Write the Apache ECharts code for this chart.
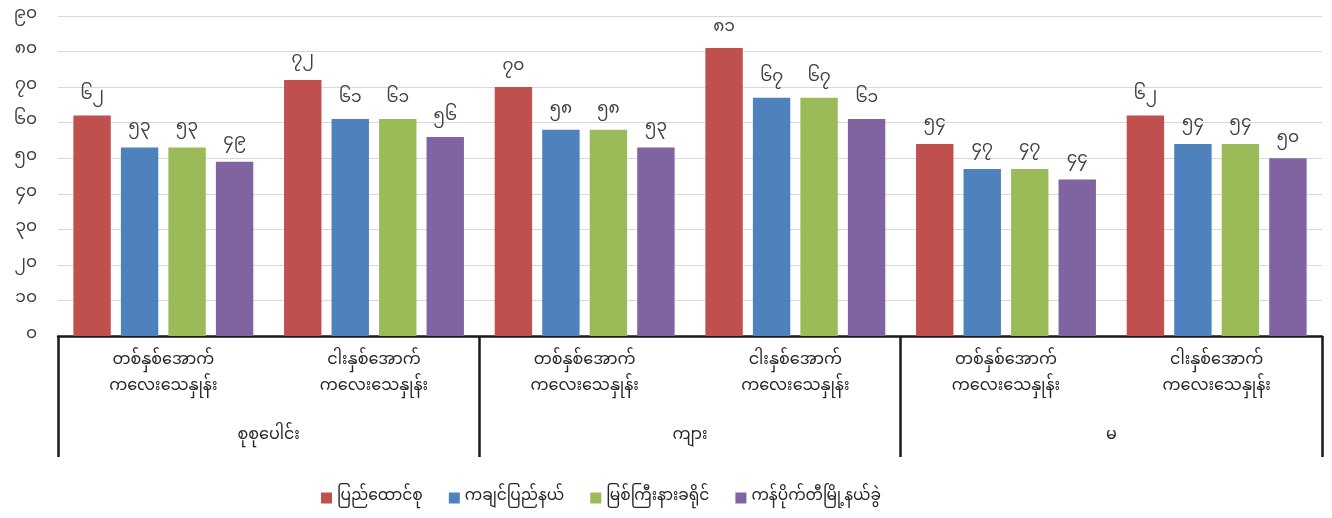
<!DOCTYPE html>
<html>
<head>
<meta charset="utf-8">
<script src="https://cdn.jsdelivr.net/npm/echarts@6/dist/echarts.min.js"></script>
<style>
html,body{margin:0;padding:0;background:#fff;}
#chart{width:1332px;height:518px;}
</style>
</head>
<body>
<div id="chart"></div>
<script>
const subCategories = [
  'တစ်နှစ်အောက်\nကလေးသေနှုန်း', 'ငါးနှစ်အောက်\nကလေးသေနှုန်း',
  'တစ်နှစ်အောက်\nကလေးသေနှုန်း', 'ငါးနှစ်အောက်\nကလေးသေနှုန်း',
  'တစ်နှစ်အောက်\nကလေးသေနှုန်း', 'ငါးနှစ်အောက်\nကလေးသေနှုန်း'
];
const groups = ['စုစုပေါင်း', 'ကျား', 'မ'];
const seriesNames = ['ပြည်ထောင်စု', 'ကချင်ပြည်နယ်', 'မြစ်ကြီးနားခရိုင်', 'ကန်ပိုက်တီမြို့နယ်ခွဲ'];
const unionValues    = [62, 72, 70, 81, 54, 62];
const kachinValues   = [53, 61, 58, 67, 47, 54];
const myitkyinaValues= [53, 61, 58, 67, 47, 54];
const kanpaikitiValues=[49, 56, 53, 61, 44, 50];
const yTicks = [0, 10, 20, 30, 40, 50, 60, 70, 80, 90];

const colors = ['#C0504D', '#4F81BD', '#9BBB59', '#8064A2'];
const MY_DIGITS = '၀၁၂၃၄၅၆၇၈၉';
function toMyanmar(n) {
  return String(n).replace(/[0-9]/g, d => MY_DIGITS[+d]);
}
const FONT = '"Noto Sans Myanmar", "Myanmar Text", Padauk, "Noto Sans", sans-serif';

const allValues = [unionValues, kachinValues, myitkyinaValues, kanpaikitiValues];

const chart = echarts.init(document.getElementById('chart'));
chart.setOption({
  animation: false,
  color: colors,
  textStyle: { fontFamily: FONT },
  grid: { left: 58, right: 10, top: 16, bottom: 182, containLabel: false },
  legend: {
    data: seriesNames,
    left: 316,
    top: 485,
    itemWidth: 11,
    itemHeight: 11,
    itemGap: 26,
    icon: 'rect',
    textStyle: { fontSize: 15.5, color: '#262626', fontFamily: FONT }
  },
  xAxis: [
    {
      type: 'category',
      data: subCategories,
      position: 'bottom',
      axisLine: { show: true, lineStyle: { color: '#1a1a1a', width: 2.5 } },
      axisTick: { show: false },
      axisLabel: { color: '#262626', fontSize: 16, lineHeight: 26, margin: 13, interval: 0, fontFamily: FONT }
    },
    {
      type: 'category',
      data: groups,
      position: 'bottom',
      axisLine: { show: false },
      axisTick: { show: true, length: 121, alignWithLabel: false, lineStyle: { color: '#1a1a1a', width: 2.5 } },
      axisLabel: { color: '#262626', fontSize: 16, margin: 93, interval: 0, fontFamily: FONT },
      splitLine: { show: false }
    }
  ],
  yAxis: {
    type: 'value',
    min: yTicks[0],
    max: yTicks[yTicks.length - 1],
    interval: 10,
    axisLine: { show: false },
    axisTick: { show: false },
    splitLine: { lineStyle: { color: '#d9d9d9', width: 1 } },
    axisLabel: {
      color: '#404040', fontSize: 17, margin: 21, fontFamily: FONT,
      formatter: v => toMyanmar(v)
    }
  },
  series: seriesNames.map((name, i) => ({
    name: name,
    type: 'bar',
    xAxisIndex: 0,
    data: allValues[i],
    barGap: '27%',
    barCategoryGap: '14.6%',
    itemStyle: { color: colors[i] },
    label: {
      show: true,
      position: 'top',
      distance: 10,
      color: '#404040',
      fontSize: 17,
      fontFamily: FONT,
      formatter: p => toMyanmar(p.value)
    }
  }))
});
</script>
</body>
</html>
